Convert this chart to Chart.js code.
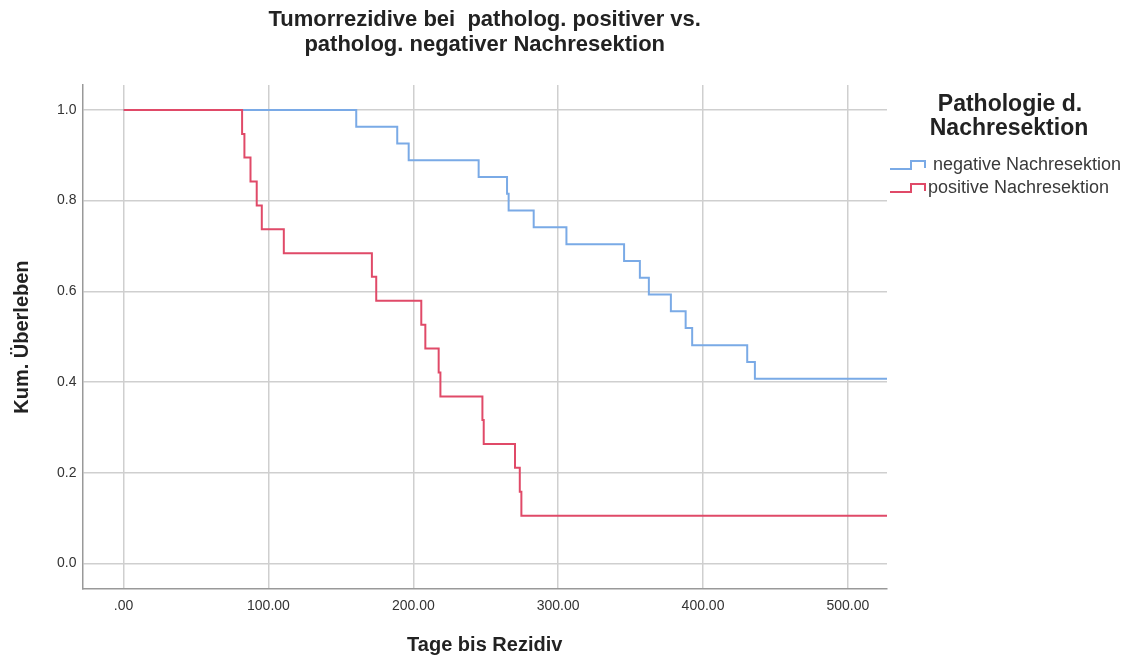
<!DOCTYPE html>
<html>
<head>
<meta charset="utf-8">
<script src="https://cdn.jsdelivr.net/npm/chart.js@4/dist/chart.umd.min.js"></script>
<style>
  html, body { margin: 0; padding: 0; background: #fff; }
  #wrap { width: 1131px; height: 659px; }
</style>
</head>
<body>
<div id="wrap"><canvas id="km" width="1131" height="659"></canvas></div>
<script>
// Kaplan-Meier steps: [days, cumulative survival]
const negTimes = [0, 160.6, 188.9, 196.8, 245.1, 264.7, 265.8, 283.1, 305.7, 345.5, 356.4, 362.6, 377.8, 388, 392.5, 430.5, 435.8, 527];
const negSurv  = [1, 0.963, 0.926, 0.889, 0.852, 0.815, 0.778, 0.741, 0.704, 0.667, 0.630, 0.593, 0.556, 0.519, 0.481, 0.444, 0.407, 0.407];
const posTimes = [0, 81.8, 83.4, 87.6, 91.9, 95.4, 110.6, 171.4, 174.4, 205.5, 208.3, 217.5, 218.7, 247.7, 248.6, 270.2, 273.5, 274.6, 527];
const posSurv  = [1, 0.947, 0.895, 0.842, 0.789, 0.737, 0.684, 0.632, 0.579, 0.526, 0.474, 0.421, 0.368, 0.316, 0.263, 0.211, 0.158, 0.105, 0.105];
const groupLabels = [' negative Nachresektion', 'positive Nachresektion'];
const titleLines = ['Tumorrezidive bei  patholog. positiver vs.', 'patholog. negativer Nachresektion'];
const xTicks = [0, 100, 200, 300, 400, 500];
const yTicks = [0, 0.2, 0.4, 0.6, 0.8, 1.0];

const FONT = '"Liberation Sans", Arial, sans-serif';
const blue = '#7aaae6';
const red = '#e04a68';

function toPoints(xs, ys) {
  return xs.map((x, i) => ({ x: x, y: ys[i] }));
}

// title over the plot area + legend with step icons, drawn by hand like SPSS
const spssDecor = {
  id: 'spssDecor',
  afterDraw(chart) {
    const ctx = chart.ctx;
    const area = chart.chartArea;
    ctx.save();
    ctx.fillStyle = '#222';
    ctx.textAlign = 'center';
    ctx.textBaseline = 'middle';
    ctx.font = 'bold 22px ' + FONT;
    const cx = (area.left + area.right) / 2;
    titleLines.forEach((t, i) => ctx.fillText(t, cx, 20 + i * 25));

    ctx.font = 'bold 23px ' + FONT;
    ctx.fillText('Pathologie d.', 1010, 105);
    ctx.fillText('Nachresektion', 1009, 129);
    ctx.font = '18px ' + FONT;
    ctx.textAlign = 'left';
    chart.data.datasets.forEach((ds, i) => {
      const y = 165 + i * 23;
      ctx.strokeStyle = ds.borderColor;
      ctx.lineWidth = 2;
      ctx.beginPath();
      ctx.moveTo(890, y + 4);
      ctx.lineTo(911, y + 4);
      ctx.lineTo(911, y - 4);
      ctx.lineTo(925, y - 4);
      ctx.lineTo(925, y + 3);
      ctx.stroke();
      ctx.fillStyle = '#3a3a3a';
      ctx.fillText(ds.label, 928, y);
    });
    ctx.restore();
  }
};

new Chart(document.getElementById('km'), {
  type: 'line',
  data: {
    datasets: [
      { label: groupLabels[0], data: toPoints(negTimes, negSurv), borderColor: blue, borderWidth: 2, stepped: 'before', pointRadius: 0, fill: false, order: 1 },
      { label: groupLabels[1], data: toPoints(posTimes, posSurv), borderColor: red, borderWidth: 2, stepped: 'before', pointRadius: 0, fill: false, order: 0 }
    ]
  },
  options: {
    responsive: false,
    animation: false,
    layout: { padding: { top: 85, right: 244, left: 10, bottom: 2 } },
    plugins: {
      legend: { display: false },
      tooltip: { enabled: false },
      title: { display: false }
    },
    scales: {
      x: {
        type: 'linear',
        min: -28.4,
        max: 527,
        afterBuildTicks: (axis) => { axis.ticks = xTicks.map(v => ({ value: v })); },
        ticks: {
          color: '#333',
          font: { family: FONT, size: 14 },
          padding: 9,
          maxRotation: 0,
          callback: (v) => v === 0 ? '.00' : v.toFixed(2)
        },
        grid: { color: '#cfcfcf', lineWidth: 1.5, drawTicks: false },
        border: { color: '#999', width: 1.5 },
        title: {
          display: true,
          text: 'Tage bis Rezidiv',
          color: '#222',
          font: { family: FONT, size: 20, weight: 'bold' },
          padding: { top: 9, bottom: 0 }
        }
      },
      y: {
        type: 'linear',
        min: -0.057,
        max: 1.055,
        afterBuildTicks: (axis) => { axis.ticks = yTicks.map(v => ({ value: v })); },
        ticks: {
          color: '#333',
          font: { family: FONT, size: 14 },
          padding: 6,
          callback: (v) => v.toFixed(1)
        },
        grid: { color: '#cfcfcf', lineWidth: 1.5, drawTicks: false },
        border: { color: '#999', width: 1.5 },
        title: {
          display: true,
          text: 'Kum. Überleben',
          color: '#222',
          font: { family: FONT, size: 20, weight: 'bold' },
          padding: { top: 0, bottom: 17 }
        }
      }
    }
  },
  plugins: [spssDecor]
});
</script>
</body>
</html>
